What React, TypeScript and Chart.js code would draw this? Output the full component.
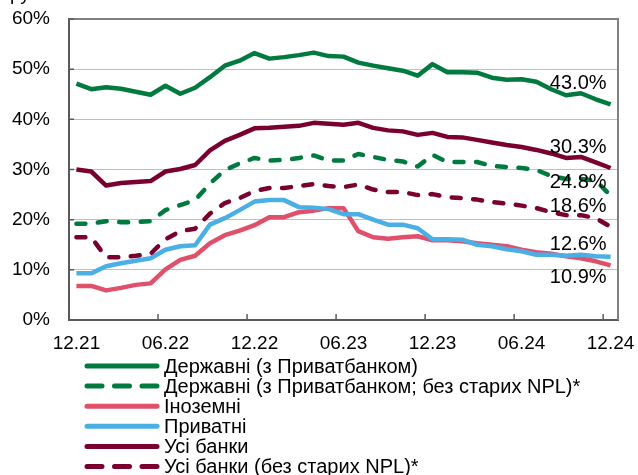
import React, { useEffect, useRef } from 'react';
import { Chart, registerables } from 'chart.js';

Chart.register(...registerables);

const FONT = '"Liberation Sans", Arial, sans-serif';

const months = [
  '12.21', '01.22', '02.22', '03.22', '04.22', '05.22', '06.22', '07.22', '08.22', '09.22', '10.22', '11.22',
  '12.22', '01.23', '02.23', '03.23', '04.23', '05.23', '06.23', '07.23', '08.23', '09.23', '10.23', '11.23',
  '12.23', '01.24', '02.24', '03.24', '04.24', '05.24', '06.24', '07.24', '08.24', '09.24', '10.24', '11.24',
  '12.24',
];

const derzhavni = [47.1, 46.0, 46.4, 46.1, 45.5, 44.9, 46.7, 45.1, 46.3, 48.4, 50.7, 51.7, 53.2, 52.1, 52.4, 52.8, 53.3, 52.6, 52.5, 51.3, 50.7, 50.2, 49.7, 48.7, 51.0, 49.4, 49.4, 49.3, 48.3, 47.9, 48.0, 47.5, 46.0, 44.8, 45.2, 44.0, 43.0];
const derzhavniNoNpl = [19.2, 19.2, 19.7, 19.5, 19.5, 19.7, 21.9, 22.9, 23.9, 27.2, 29.9, 31.2, 32.3, 31.8, 31.9, 32.3, 32.8, 31.8, 31.8, 33.1, 32.5, 31.9, 31.6, 30.6, 32.9, 31.5, 31.5, 31.5, 30.7, 30.5, 30.3, 29.9, 28.7, 28.1, 28.1, 27.8, 24.8];
const inozemni = [6.8, 6.8, 5.9, 6.4, 7.0, 7.3, 10.1, 12.0, 12.8, 15.3, 16.9, 17.8, 18.9, 20.5, 20.5, 21.5, 21.8, 22.3, 22.3, 17.7, 16.5, 16.2, 16.5, 16.7, 15.9, 15.9, 15.7, 15.3, 15.0, 14.7, 14.0, 13.5, 13.2, 12.7, 12.3, 11.7, 10.9];
const pryvatni = [9.3, 9.3, 10.7, 11.3, 11.8, 12.3, 14.0, 14.7, 14.9, 19.0, 20.3, 21.9, 23.6, 23.9, 23.9, 22.5, 22.4, 22.1, 21.1, 21.1, 20.0, 19.0, 19.0, 18.3, 16.1, 16.1, 16.0, 15.0, 14.7, 14.1, 13.7, 13.0, 13.0, 12.8, 13.0, 12.7, 12.6];
const usiBanky = [30.0, 29.6, 26.8, 27.3, 27.5, 27.7, 29.6, 30.1, 30.9, 33.8, 35.7, 36.9, 38.2, 38.3, 38.5, 38.7, 39.3, 39.1, 38.9, 39.3, 38.3, 37.8, 37.6, 36.9, 37.3, 36.5, 36.4, 35.9, 35.4, 34.9, 34.5, 33.9, 33.2, 32.3, 32.5, 31.4, 30.3];
const usiBankyNoNpl = [16.5, 16.5, 12.5, 12.5, 12.8, 13.2, 16.1, 17.7, 18.2, 21.2, 23.3, 24.3, 25.7, 26.3, 26.3, 26.7, 27.1, 26.7, 26.5, 27.0, 26.0, 25.5, 25.5, 24.9, 25.1, 24.5, 24.3, 24.0, 23.5, 23.2, 22.8, 22.3, 21.5, 20.9, 20.9, 20.3, 18.6];

const seriesNames = [
  'Державні (з Приватбанком)',
  'Державні (з Приватбанком; без старих NPL)*',
  'Іноземні',
  'Приватні',
  'Усі банки',
  'Усі банки (без старих NPL)*',
];
const seriesValues = [derzhavni, derzhavniNoNpl, inozemni, pryvatni, usiBanky, usiBankyNoNpl];
const seriesColors = ['#007A3E', '#007A3E', '#E0506A', '#4AAFE5', '#7A0030', '#7A0030'];
const seriesDashed = [false, true, false, false, false, true];
// vertical offset of end-value labels relative to the last point (px)
const endLabelOffsets = [-21, -13, 12, -12, -21, -20];

const yTicks = [0, 10, 20, 30, 40, 50, 60];

const zeroPadding = (s: any) => {
  s.paddingLeft = 0;
  s.paddingRight = 0;
  s.paddingTop = 0;
  s.paddingBottom = 0;
};

const overlay = {
  id: 'overlay',
  afterDatasetsDraw(chart: any) {
    const ctx = chart.ctx;
    const x = chart.scales.x;
    const y = chart.scales.y;
    ctx.save();
    ctx.font = `20px ${FONT}`;
    ctx.fillStyle = '#000';
    ctx.textAlign = 'right';
    ctx.textBaseline = 'middle';
    chart.data.datasets.forEach((ds: any, i: number) => {
      const last = ds.data.length - 1;
      const v = ds.data[last];
      const px = x.getPixelForValue(last);
      const py = y.getPixelForValue(v);
      ctx.fillText(v.toFixed(1) + '%', px - 4, py + endLabelOffsets[i]);
    });
    ctx.restore();
  },
  afterDraw(chart: any) {
    const ctx = chart.ctx;
    const area = chart.chartArea;
    const x = chart.scales.x;
    const y = chart.scales.y;
    ctx.save();
    // top & right frame
    ctx.strokeStyle = '#808080';
    ctx.lineWidth = 2;
    ctx.beginPath();
    ctx.moveTo(area.left, area.top);
    ctx.lineTo(area.right, area.top);
    ctx.lineTo(area.right, area.bottom);
    ctx.stroke();
    // inner tick marks
    ctx.strokeStyle = '#595959';
    ctx.lineWidth = 1.5;
    ctx.beginPath();
    for (let i = 6; i < x.ticks.length; i += 6) {
      const bx = (x.getPixelForTick(i - 1) + x.getPixelForTick(i)) / 2;
      ctx.moveTo(bx, area.bottom);
      ctx.lineTo(bx, area.bottom - 6);
    }
    yTicks.forEach((t) => {
      const py = y.getPixelForValue(t);
      ctx.moveTo(area.left, py);
      ctx.lineTo(area.left + 5, py);
    });
    ctx.stroke();
    // clipped heading remnant
    ctx.fillStyle = '#000';
    ctx.font = `19px ${FONT}`;
    ctx.textAlign = 'left';
    ctx.textBaseline = 'alphabetic';
    ctx.fillText('ру', 10, 0);
    // legend
    const lx0 = 87;
    const lx1 = 157;
    const ly0 = 366;
    const step = 20.1;
    chart.data.datasets.forEach((ds: any, i: number) => {
      const ly = ly0 + i * step;
      ctx.strokeStyle = ds.borderColor;
      ctx.lineWidth = 5;
      ctx.lineCap = 'round';
      ctx.setLineDash(seriesDashed[i] ? [15, 12.5] : []);
      ctx.beginPath();
      ctx.moveTo(lx0, ly);
      ctx.lineTo(lx1, ly);
      ctx.stroke();
      ctx.setLineDash([]);
      ctx.fillStyle = '#000';
      ctx.font = `20px ${FONT}`;
      ctx.textAlign = 'left';
      ctx.textBaseline = 'middle';
      ctx.fillText(ds.label, 164, ly + 1);
    });
    ctx.restore();
  },
};

export default function App() {
  const canvasRef = useRef<HTMLCanvasElement | null>(null);

  useEffect(() => {
    const canvas = canvasRef.current;
    if (!canvas) return;
    const datasets = seriesNames.map((name, i) => ({
      label: name,
      data: seriesValues[i],
      borderColor: seriesColors[i],
      backgroundColor: seriesColors[i],
      borderWidth: 4.5,
      borderDash: seriesDashed[i] ? [9, 12.5] : [],
      borderCapStyle: seriesDashed[i] ? 'round' : 'butt',
      borderJoinStyle: 'round',
      pointRadius: 0,
      tension: 0,
      fill: false,
      order: seriesNames.length - 1 - i,
    }));
    const chart = new Chart(canvas, {
      type: 'line',
      data: { labels: months, datasets: datasets as any },
      options: {
        animation: false,
        responsive: true,
        maintainAspectRatio: false,
        layout: { padding: { top: 19, right: 20, left: 0, bottom: 0 } },
        plugins: { legend: { display: false }, tooltip: { enabled: false } },
        scales: {
          x: {
            type: 'category',
            offset: true,
            grid: { display: true, offset: true, drawOnChartArea: false, drawTicks: false },
            border: { color: '#595959', width: 2 },
            ticks: {
              autoSkip: false,
              maxRotation: 0,
              minRotation: 0,
              padding: 12,
              color: '#000',
              font: { size: 19, family: FONT },
              callback: (_v: any, i: number) => (i % 6 === 0 ? months[i] : ''),
            },
            afterFit: (s: any) => {
              s.height = 155;
              zeroPadding(s);
            },
          },
          y: {
            min: 0,
            max: 60,
            afterBuildTicks: (s: any) => {
              s.ticks = yTicks.map((v) => ({ value: v }));
            },
            ticks: {
              padding: 19,
              color: '#000',
              font: { size: 19, family: FONT },
              callback: (v: any) => v + '%',
            },
            grid: { color: '#BFBFBF', lineWidth: 1, drawTicks: false },
            border: { color: '#595959', width: 2 },
            afterFit: (s: any) => {
              s.width = 69;
              zeroPadding(s);
            },
          },
        },
      } as any,
      plugins: [overlay],
    });
    return () => chart.destroy();
  }, []);

  return (
    <div style={{ position: 'absolute', left: 0, top: 0, width: 638, height: 475 }}>
      <canvas ref={canvasRef} />
    </div>
  );
}
